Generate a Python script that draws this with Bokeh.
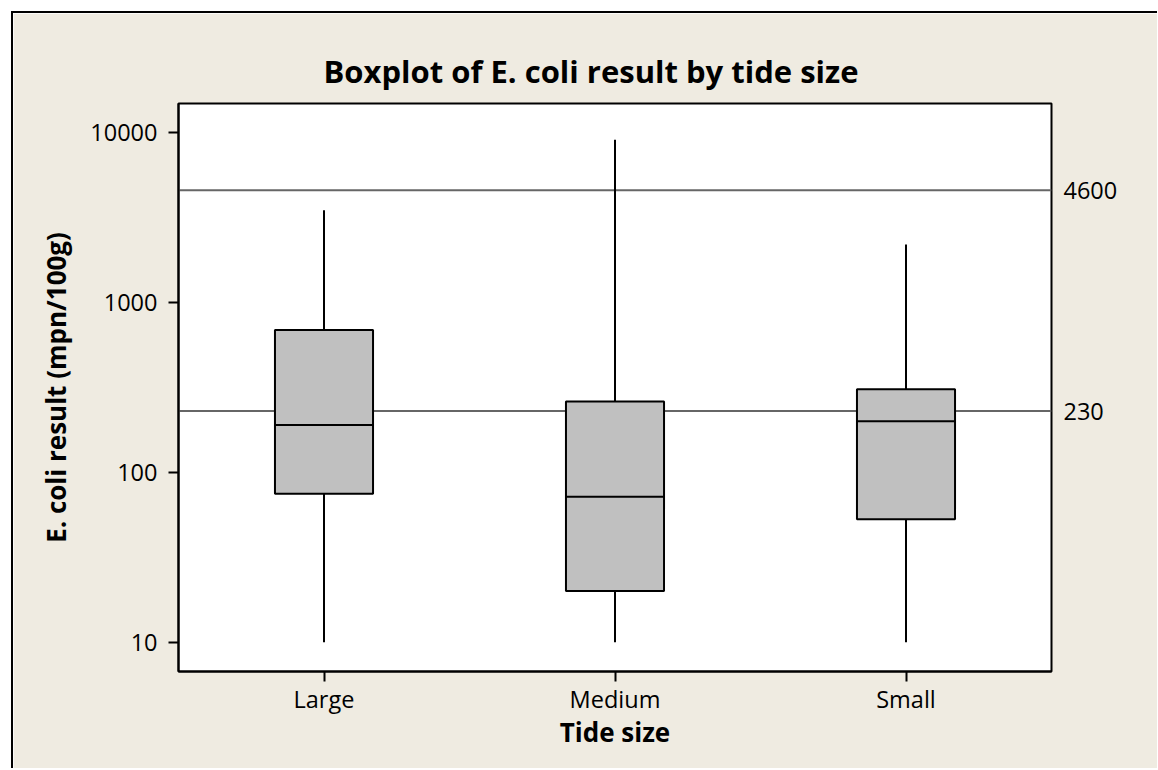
from bokeh.plotting import figure
from bokeh.models import FactorRange, Range1d, LogAxis, FixedTicker, NumeralTickFormatter, Span
from bokeh.embed import file_html
from bokeh.resources import INLINE

categories = ["Large", "Medium", "Small"]
whisker_low = [10, 10, 10]
q1 = [75, 20, 53]
median = [190, 72, 200]
q3 = [690, 262, 309]
whisker_high = [3500, 9100, 2200]
ref_lines = [230, 4600]
y_ticks = [10, 100, 1000, 10000]

FONT = "Open Sans"
BG = "#EFEBE1"
TICK_SIZE = "23.5px"
LABEL_SIZE = "26px"

p = figure(
    x_range=FactorRange(factors=categories),
    y_range=Range1d(6.72, 14900),
    y_axis_type="log",
    frame_width=873, frame_height=568,
    min_border_left=165, min_border_top=90, min_border_right=106, min_border_bottom=97,
    output_backend="svg", toolbar_location=None,
    title="Boxplot of E. coli result by tide size",
)
p.styles = {"border-left": "2px solid black", "border-top": "2px solid black",
            "margin-left": "11px", "margin-top": "11px"}

p.background_fill_color = "white"
p.border_fill_color = BG
p.outline_line_color = "black"
p.outline_line_width = 2
p.xgrid.grid_line_color = None
p.ygrid.grid_line_color = None

p.title.text_font = FONT
p.title.text_font_size = "31px"
p.title.text_font_style = "bold"
p.title.align = "left"
p.title.offset = 145
p.title.text_color = "black"
p.title.standoff = 24

xa = p.xaxis[0]
xa.axis_label = "Tide size"
xa.axis_label_text_font = FONT
xa.axis_label_text_font_size = LABEL_SIZE
xa.axis_label_text_font_style = "bold"
xa.axis_label_text_color = "black"
xa.axis_label_standoff = -4
xa.major_label_text_font = FONT
xa.major_label_text_font_size = TICK_SIZE
xa.major_label_text_color = "black"
xa.major_label_standoff = 1
xa.major_tick_out = 10
xa.major_tick_in = 0
xa.major_tick_line_width = 2
xa.major_tick_line_color = "black"
xa.axis_line_width = 2
xa.axis_line_color = "black"

ya = p.yaxis[0]
ya.ticker = FixedTicker(ticks=y_ticks, minor_ticks=[])
ya.formatter = NumeralTickFormatter(format="0")
ya.axis_label = "E. coli result (mpn/100g)"
ya.axis_label_text_font = FONT
ya.axis_label_text_font_size = LABEL_SIZE
ya.axis_label_text_font_style = "bold"
ya.axis_label_text_color = "black"
ya.axis_label_standoff = 13
ya.major_label_text_font = FONT
ya.major_label_text_font_size = TICK_SIZE
ya.major_label_text_color = "black"
ya.major_label_standoff = 11
ya.major_tick_out = 10
ya.major_tick_in = 0
ya.major_tick_line_width = 2
ya.major_tick_line_color = "black"
ya.minor_tick_line_color = None
ya.axis_line_width = 2
ya.axis_line_color = "black"

ra = LogAxis(ticker=FixedTicker(ticks=ref_lines, minor_ticks=[]),
             formatter=NumeralTickFormatter(format="0"))
ra.major_tick_out = 0
ra.major_tick_in = 0
ra.minor_tick_line_color = None
ra.axis_line_color = None
ra.major_label_standoff = 12
ra.major_label_text_font = FONT
ra.major_label_text_font_size = TICK_SIZE
ra.major_label_text_color = "black"
p.add_layout(ra, "right")

for v in ref_lines:
    p.add_layout(Span(location=v, dimension="width", line_color="#666666",
                      line_width=2, level="underlay"))

p.segment(x0=categories, y0=whisker_low, x1=categories, y1=whisker_high,
          line_color="black", line_width=2)
p.vbar(x=categories, bottom=q1, top=q3, width=0.337, fill_color="#C0C0C0",
       line_color="black", line_width=2)
p.vbar(x=categories, bottom=median, top=median, width=0.337, fill_alpha=0,
       line_color="black", line_width=2)

open("out.html", "w").write(file_html(p, INLINE))
